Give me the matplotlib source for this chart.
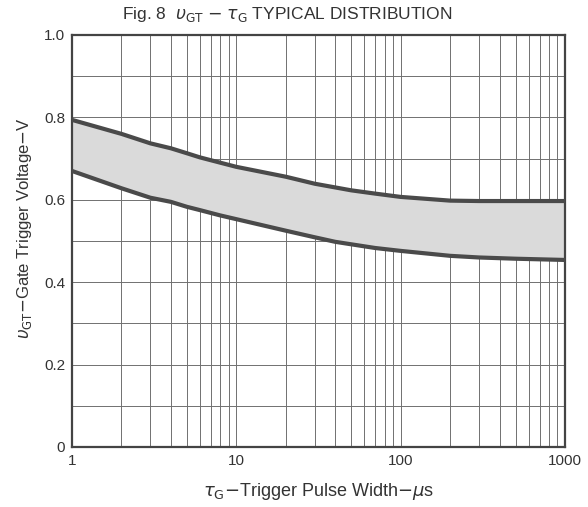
import matplotlib
matplotlib.use("Agg")
import matplotlib.pyplot as plt
import numpy as np
from matplotlib.ticker import FixedLocator, NullFormatter, LogLocator

plt.rcParams['font.family'] = ['Liberation Sans', 'DejaVu Sans']
plt.rcParams['mathtext.fontset'] = 'dejavusans'

# Data
pulse_width = [1, 2, 3, 4, 5, 6, 8, 10, 20, 30, 40, 50, 70, 100, 200, 300, 500, 1000]
upper_v = [0.794, 0.760, 0.737, 0.725, 0.713, 0.703, 0.690, 0.680, 0.656, 0.639, 0.630,
           0.623, 0.615, 0.607, 0.598, 0.597, 0.597, 0.597]
lower_v = [0.670, 0.628, 0.605, 0.595, 0.583, 0.575, 0.562, 0.553, 0.525, 0.509, 0.498,
           0.492, 0.483, 0.476, 0.464, 0.460, 0.457, 0.454]

y_ticks = [0, 0.2, 0.4, 0.6, 0.8, 1.0]
y_tick_labels = ["0", "0.2", "0.4", "0.6", "0.8", "1.0"]
x_ticks = [1, 10, 100, 1000]
x_tick_labels = ["1", "10", "100", "1000"]

fig = plt.figure(figsize=(5.88, 5.07), dpi=100)
ax = fig.add_axes([72/588, 1-447/507, 493/588, 412/507])

ax.set_xscale('log')
ax.set_xlim(1, 1000)
ax.set_ylim(0, 1.0)

ax.xaxis.set_major_locator(FixedLocator(x_ticks))
ax.xaxis.set_minor_locator(LogLocator(base=10, subs=np.arange(2, 10)))
ax.xaxis.set_minor_formatter(NullFormatter())
ax.set_xticks(x_ticks)
ax.set_xticklabels(x_tick_labels)
ax.set_yticks(y_ticks)
ax.set_yticklabels(y_tick_labels)
ax.set_yticks(np.arange(0.1, 1.0, 0.2), minor=True)

ax.grid(True, which='both', axis='both', color='#707070', linewidth=0.7)
ax.tick_params(which='both', length=0, labelsize=11, colors='#333333', pad=5)

ax.fill_between(pulse_width, lower_v, upper_v, color='#dadada', zorder=2)
ax.plot(pulse_width, upper_v, color='#4a4a4a', linewidth=3, zorder=3,
        solid_capstyle='butt', solid_joinstyle='round')
ax.plot(pulse_width, lower_v, color='#4a4a4a', linewidth=3, zorder=3,
        solid_capstyle='butt', solid_joinstyle='round')

for s in ax.spines.values():
    s.set_color('#444444')
    s.set_linewidth(1.6)

fig.text(287/588, 1-14/507, r"Fig. 8  $\upsilon_{\rm GT}$ $-$ $\tau_{\rm G}$ TYPICAL DISTRIBUTION",
         ha='center', va='center', fontsize=12.5, color='#333333')
ax.set_xlabel(r"$\tau_{\rm G}$$-$Trigger Pulse Width$-\mu$s", fontsize=13, color='#333333')
ax.xaxis.set_label_coords(0.5, -0.082)
ax.set_ylabel(r"$\upsilon_{\rm GT}$$-$Gate Trigger Voltage$-$V", fontsize=12, color='#333333')
ax.yaxis.set_label_coords(-0.077, 0.53)

fig.savefig("out.png", dpi=100)
